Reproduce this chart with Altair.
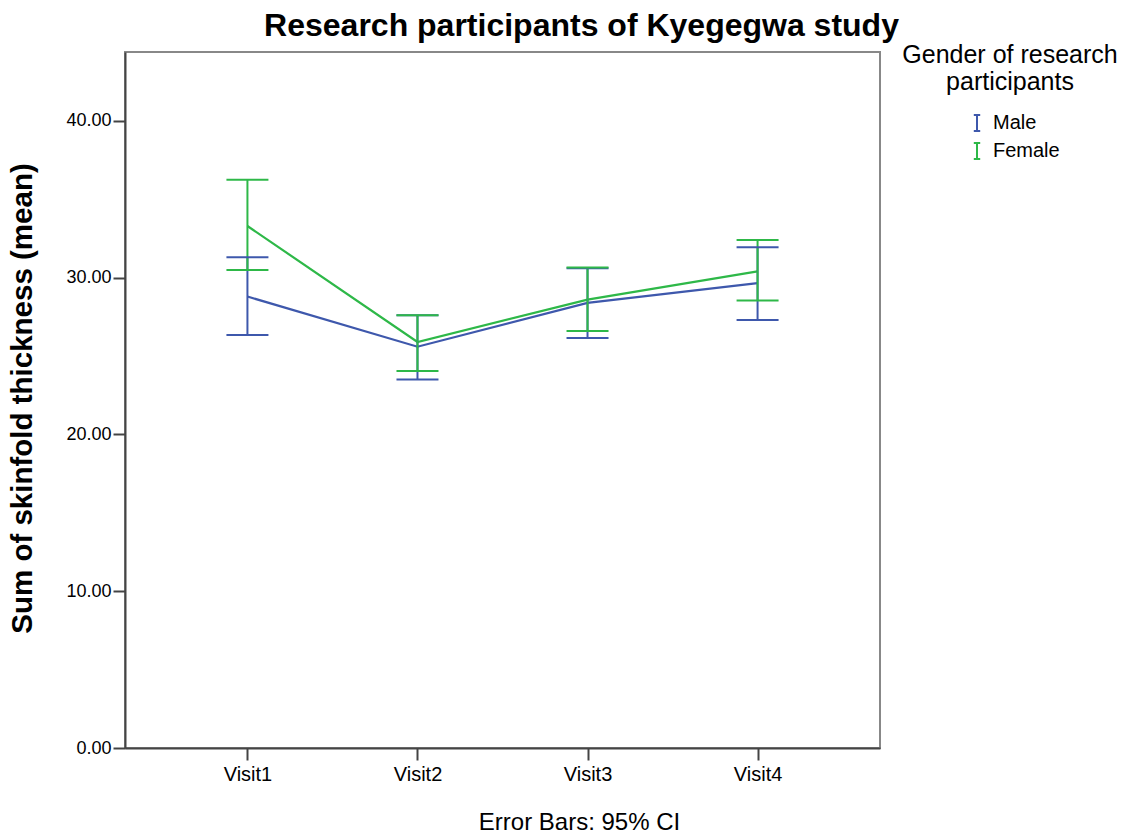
import altair as alt
import pandas as pd

visits = ["Visit1", "Visit2", "Visit3", "Visit4"]
genders = ["Male", "Female"]
male_mean = [28.8, 25.6, 28.4, 29.65]
male_lo = [26.35, 23.5, 26.15, 27.3]
male_hi = [31.3, 27.6, 30.6, 31.95]
female_mean = [33.3, 25.9, 28.6, 30.4]
female_lo = [30.5, 24.05, 26.6, 28.55]
female_hi = [36.25, 27.6, 30.65, 32.4]
colors = ["#3E58AC", "#2EB848"]

rows = []
for v, m, lo, hi in zip(visits, male_mean, male_lo, male_hi):
    rows.append({"visit": v, "gender": "Male", "mean": m, "lo": lo, "hi": hi})
for v, m, lo, hi in zip(visits, female_mean, female_lo, female_hi):
    rows.append({"visit": v, "gender": "Female", "mean": m, "lo": lo, "hi": hi})
df = pd.DataFrame(rows)

FONT = "Liberation Sans"

x = alt.X("visit:N", sort=visits,
          scale=alt.Scale(type="point", padding=0.72),
          axis=alt.Axis(title="Error Bars: 95% CI", labelAngle=0,
                        titleX=454, titleY=74, titleBaseline="middle",
                        titleFontWeight="normal", titleFontSize=24,
                        labelFontSize=20, labelPadding=4))
color = alt.Color("gender:N",
                  scale=alt.Scale(domain=genders, range=colors),
                  legend=alt.Legend(
                      title=["Gender of research", "participants"],
                      orient="none", legendX=777, legendY=-9,
                      titleAlign="center", titleAnchor="middle",
                      titleFontSize=25, titleFontWeight="normal",
                      titleLineHeight=27, titlePadding=18, titleLimit=400,
                      labelFontSize=20, labelOffset=6,
                      symbolType="M-0.4,-1H0.4M0,-1V1M-0.4,1H0.4",
                      symbolSize=256, symbolStrokeWidth=2,
                      symbolOffset=7, rowPadding=4, padding=0))

yscale = alt.Scale(domain=[0, 44.4], nice=False, zero=True)
yaxis = alt.Axis(title="Sum of skinfold thickness (mean)", values=[0, 10, 20, 30, 40],
                 format=".2f", titleX=-103, titleY=346, titleBaseline="middle",
                 titleAngle=-90, titleFontSize=29.5, titleFontWeight="bold",
                 labelFontSize=18, labelPadding=2)

base = alt.Chart(df)
lines = base.mark_line(strokeWidth=2.2, opacity=1).encode(
    x=x, y=alt.Y("mean:Q", scale=yscale, axis=yaxis), color=color,
    order=alt.Order("visit:N"))
rules = base.mark_rule(strokeWidth=2, opacity=1).encode(
    x=x, y=alt.Y("lo:Q", scale=yscale), y2="hi:Q", color=color)
caps_lo = base.mark_tick(size=42, thickness=2, opacity=1).encode(
    x=x, y=alt.Y("lo:Q", scale=yscale), color=color)
caps_hi = base.mark_tick(size=42, thickness=2, opacity=1).encode(
    x=x, y=alt.Y("hi:Q", scale=yscale), color=color)

chart = alt.layer(lines, rules, caps_lo, caps_hi).properties(
    width=755, height=696,
    autosize=alt.AutoSizeParams(type="none"),
    padding={"left": 125, "top": 52, "right": 252, "bottom": 88},
    title=alt.TitleParams("Research participants of Kyegegwa study",
                          fontSize=32, fontWeight="bold", font=FONT,
                          anchor="middle", dx=79, dy=44, offset=12,
                          baseline="bottom", color="#000"),
    background="white",
).configure_view(stroke="#888", strokeWidth=2).configure_axis(
    domainColor="#444", domainWidth=2, tickColor="#444", tickWidth=2, tickSize=12,
    grid=False, labelFont=FONT, titleFont=FONT, labelColor="#000", titleColor="#000"
).configure_legend(labelFont=FONT, titleFont=FONT, labelColor="#000", titleColor="#000")

chart.save("out.html", embed_options={"renderer": "svg", "actions": False})
